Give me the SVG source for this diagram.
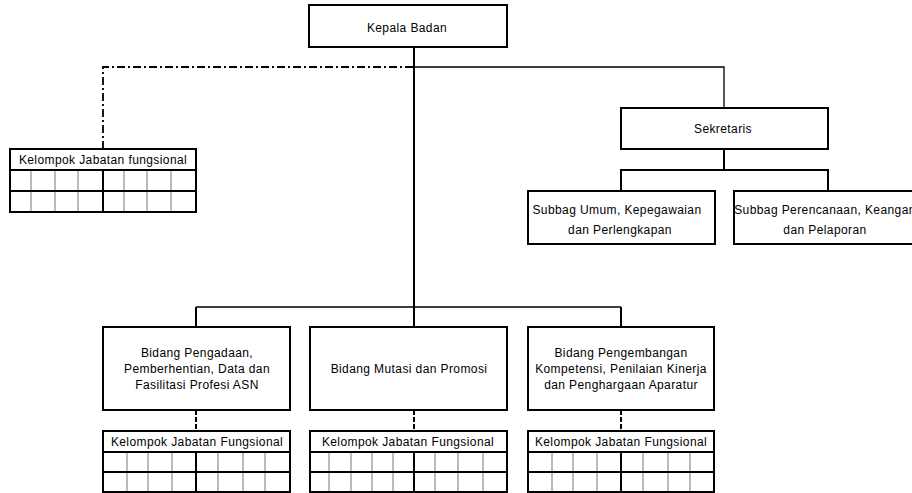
<svg xmlns="http://www.w3.org/2000/svg" width="912" height="493" viewBox="0 0 912 493">
<style>
.box{fill:#fff;stroke:#000;stroke-width:2}
.frame{fill:none;stroke:#000;stroke-width:2}
.t{font-family:"Liberation Sans",Arial,sans-serif;font-size:12px;letter-spacing:0.4px;fill:#000;text-anchor:middle}
.c{fill:none;stroke:#000;stroke-width:2}
.thin{fill:none;stroke:#000;stroke-width:1.3}
.dd{fill:none;stroke:#000;stroke-width:1.8;stroke-dasharray:8 3 2 3}
.ds{fill:none;stroke:#000;stroke-width:2;stroke-dasharray:5 2}
.g{stroke:#777;stroke-width:1}
.k{stroke:#000;stroke-width:2}
</style>
<rect width="912" height="493" fill="#fff"/>
<g id="connectors">
<path class="dd" d="M413 67H103V149"/>
<path class="c" d="M414 47V327"/>
<path class="thin" d="M414 67H724V108"/>
<path class="c" d="M724 149V170M621 191V170H828V191"/>
<path class="thin" d="M196 307H621"/>
<path class="c" d="M196 307V327M621 307V327"/>
<path class="ds" d="M196 410V431M414 410V431M621 410V431"/>
</g>
<g id="kepala-badan">
<rect class="box" x="309" y="5" width="198" height="42"/>
<text class="t" x="407" y="32">Kepala Badan</text>
</g>
<g id="sekretaris">
<rect class="box" x="621" y="108" width="207" height="41"/>
<text class="t" x="723" y="133">Sekretaris</text>
</g>
<g id="subbag-umum">
<rect class="box" x="528" y="191" width="187" height="53"/>
<text class="t" x="617" y="214">Subbag Umum, Kepegawaian</text>
<text class="t" x="620" y="234">dan Perlengkapan</text>
</g>
<g id="subbag-perencanaan">
<rect class="box" x="734" y="191" width="194" height="53"/>
<text class="t" x="825" y="214">Subbag Perencanaan, Keangan</text>
<text class="t" x="825" y="234">dan Pelaporan</text>
</g>
<g id="kjf-top">
<path class="g" d="M31 170V212M55 170V212M78 170V212M124 170V212M147 170V212M171 170V212"/>
<path class="k" d="M103 170V212M10 170H196M10 191H196"/>
<rect class="frame" x="10" y="149" width="186" height="63"/>
<text class="t" x="103" y="164">Kelompok Jabatan fungsional</text>
</g>
<g id="bidang-pengadaan">
<rect class="box" x="103" y="327" width="187" height="83"/>
<text class="t" x="197" y="357">Bidang Pengadaan,</text>
<text class="t" x="197" y="373">Pemberhentian, Data dan</text>
<text class="t" x="197" y="389">Fasilitasi Profesi ASN</text>
</g>
<g id="bidang-mutasi">
<rect class="box" x="310" y="327" width="197" height="83"/>
<text class="t" x="409" y="373">Bidang Mutasi dan Promosi</text>
</g>
<g id="bidang-pengembangan">
<rect class="box" x="528" y="327" width="186" height="83"/>
<text class="t" x="621" y="357">Bidang Pengembangan</text>
<text class="t" x="621" y="373">Kompetensi, Penilaian Kinerja</text>
<text class="t" x="621" y="389">dan Penghargaan Aparatur</text>
</g>
<g id="kjf-1">
<path class="g" d="M127 452V493M148 452V493M172 452V493M218 452V493M243 452V493M265 452V493"/>
<path class="k" d="M196 452V493M103 452H290M103 472H290"/>
<rect class="frame" x="103" y="431" width="187" height="61"/>
<text class="t" x="197" y="446">Kelompok Jabatan Fungsional</text>
</g>
<g id="kjf-2">
<path class="g" d="M329 452V493M351 452V493M372 452V493M393 452V493M435 452V493M458 452V493M483 452V493"/>
<path class="k" d="M414 452V493M310 452H507M310 472H507"/>
<rect class="frame" x="310" y="431" width="197" height="61"/>
<text class="t" x="408" y="446">Kelompok Jabatan Fungsional</text>
</g>
<g id="kjf-3">
<path class="g" d="M552 452V493M573 452V493M597 452V493M643 452V493M668 452V493M690 452V493"/>
<path class="k" d="M621 452V493M528 452H714M528 472H714"/>
<rect class="frame" x="528" y="431" width="186" height="61"/>
<text class="t" x="621" y="446">Kelompok Jabatan Fungsional</text>
</g>
</svg>
